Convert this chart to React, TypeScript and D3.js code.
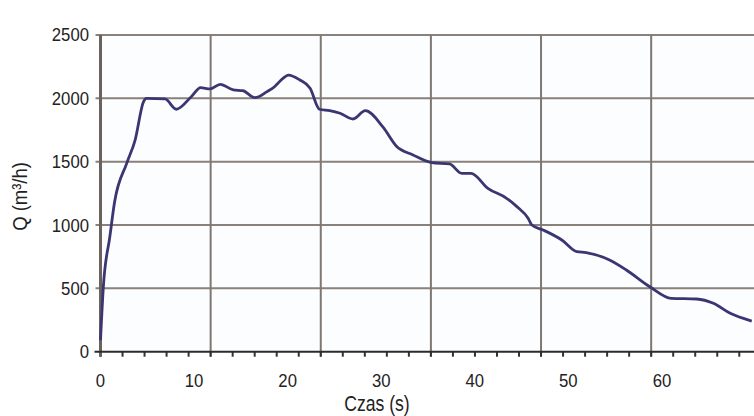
import * as d3 from 'd3';

// time (s) and flow Q (m3/h)
const time = [
  0, 0.3, 1.0, 1.5, 2.8, 3.7, 4.6, 4.9, 6.9, 8.1, 9.7, 10.7, 11.7, 12.8, 14.2,
  15.2, 16.5, 17.8, 18.6, 19.2, 20.1, 21.3, 22.4, 23.4, 24.5, 25.6, 27.0, 28.3,
  30.2, 31.6, 33.4, 35.4, 37.3, 38.6, 39.6, 41.4, 43.4, 44.5, 45.7, 46.1, 47.3,
  49.3, 50.9, 51.9, 54.4, 56.2, 58.7, 61.0, 63.7, 65.5, 67.3, 69.6,
];
const flow = [
  90, 508, 908, 1180, 1487, 1671, 1974, 2000, 1995, 1914, 2013, 2084, 2074, 2111,
  2066, 2060, 2005, 2053, 2092, 2137, 2184, 2145, 2080, 1914, 1903, 1882, 1837,
  1903, 1772, 1624, 1553, 1492, 1482, 1408, 1408, 1290, 1211, 1145, 1053, 1000,
  961, 882, 790, 782, 724, 645, 513, 421, 416, 382, 303, 242,
];
const xTickLabels = [0, 10, 20, 30, 40, 50, 60];
const yTicks = [0, 500, 1000, 1500, 2000, 2500];

const W = 754;
const H = 416;
const gridStep = 11.77; // vertical grid spacing in seconds, as in the figure

export default function App() {
  const x = d3.scaleLinear().domain([0, 70]).range([100.5, 755.5]);
  const y = d3.scaleLinear().domain([0, 2500]).range([351.7, 35]);

  const pts = time.map((t, i) => ({ t, q: flow[i] }));
  const line = d3
    .line<{ t: number; q: number }>()
    .x((d) => x(d.t))
    .y((d) => y(d.q))
    .curve(d3.curveMonotoneX);

  const gridX = d3.range(1, 6).map((i) => i * gridStep);
  const minorX = d3.range(0, 70, gridStep / 5);
  const x0 = x(0);
  const y0 = y(0);

  const sans = "'Liberation Sans', Arial, sans-serif";

  return (
    <svg
      width={W}
      height={H}
      style={{ position: 'absolute', left: 0, top: 0, background: '#fff' }}
    >
      <rect x={x0} y={y(2500)} width={W - x0} height={y0 - y(2500)} fill="#fcfdfe" />

      {/* horizontal grid */}
      {yTicks.slice(1).map((v) => (
        <line key={v} x1={x0 - 5} x2={W} y1={y(v)} y2={y(v)} stroke="#8a817b" strokeWidth={2} />
      ))}
      {/* vertical grid */}
      {gridX.map((v) => (
        <line key={v} x1={x(v)} x2={x(v)} y1={y(2500)} y2={y0 + 5} stroke="#7f7772" strokeWidth={2} />
      ))}

      {/* minor ticks */}
      {minorX.map((v) => (
        <line key={v} x1={x(v)} x2={x(v)} y1={y0} y2={y0 + 5} stroke="#333" strokeWidth={2} />
      ))}

      {/* axes */}
      <line x1={x0} x2={x0} y1={y(2500)} y2={y0 + 5} stroke="#6b625d" strokeWidth={3} />
      <line x1={x0 - 6} x2={W} y1={y0} y2={y0} stroke="#2b2b2b" strokeWidth={2} />

      <path d={line(pts) || ''} fill="none" stroke="#3b3572" strokeWidth={2.8} strokeLinejoin="round" />

      {yTicks.map((v) => (
        <text
          key={v}
          transform={`translate(89,${y(v)}) scale(0.93,1.03)`}
          dy="0.35em"
          textAnchor="end"
          fontSize={18}
          fontFamily={sans}
          fill="#222"
        >
          {v}
        </text>
      ))}
      {xTickLabels.map((v) => (
        <text
          key={v}
          transform={`translate(${x(v)},386.7) scale(0.93,1.03)`}
          textAnchor="middle"
          fontSize={18}
          fontFamily={sans}
          fill="#222"
        >
          {v}
        </text>
      ))}

      <text
        transform="translate(377,411) scale(0.8,1)"
        textAnchor="middle"
        fontSize={22}
        fontFamily={sans}
        fill="#222"
      >
        Czas (s)
      </text>
      <text
        transform="translate(27,196.5) rotate(-90) scale(0.88,1)"
        textAnchor="middle"
        fontSize={21}
        fontFamily={sans}
        fill="#222"
      >
        Q (m³/h)
      </text>
    </svg>
  );
}
